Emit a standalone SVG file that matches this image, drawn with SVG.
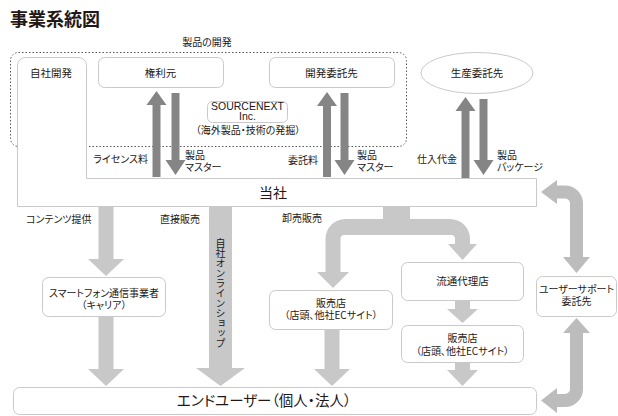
<svg xmlns="http://www.w3.org/2000/svg" width="618" height="416" viewBox="0 0 618 416">
<style>
text{font-family:"Noto Sans CJK JP","Noto Sans",sans-serif;fill:#231815;font-feature-settings:"palt";}
.t{font-size:10px;}
.b{font-size:10.5px;}
.m{text-anchor:middle;}
.e{text-anchor:end;}
.box{fill:#fff;stroke:#c9c9c9;stroke-width:1;}
.dk{fill:#858585;}
.lt{fill:#c8c8c8;}
.sd{fill:#bcbcbc;}
.lat{font-family:"Liberation Sans",Arial,sans-serif;font-size:10.5px;}
</style>
<rect width="618" height="416" fill="#fff"/>
<text x="10" y="26" style="font-size:18px;font-weight:700">事業系統図</text>
<text class="t m" x="207" y="46">製品の開発</text>
<rect x="10.5" y="52.5" width="396" height="94" rx="8" fill="none" stroke="#555" stroke-width="1" stroke-dasharray="1.5 2"/>

<g id="tousha">
<path class="box" d="M17.5,65 A8,8 0 0 1 25.5,57.5 H78 A8,8 0 0 1 86.5,65.5 V178.5 H536.5 V206.5 H17.5 Z"/>
<text class="b m" x="51" y="77">自社開発</text>
<text class="m" x="273" y="198" style="font-size:14px">当社</text>
</g>
<g id="kenrimoto">
<rect class="box" x="98.5" y="57.5" width="125" height="30" rx="6"/>
<text class="b m" x="160.5" y="76.5">権利元</text>
</g>
<g id="kaihatsu">
<rect class="box" x="269.5" y="57.5" width="125" height="30" rx="6"/>
<text class="b m" x="331.5" y="76.5">開発委託先</text>
</g>
<g id="seisan">
<ellipse class="box" cx="477" cy="73" rx="56" ry="20.5"/>
<text class="b m" x="477" y="77">生産委託先</text>
</g>
<g id="sourcenext">
<rect class="box" x="207.5" y="101.5" width="80" height="21" rx="5"/>
<text class="lat m" x="247.5" y="110">SOURCENEXT<tspan x="247.5" dy="10">Inc.</tspan></text>
<text class="t m" x="248" y="134">（海外製品・技術の発掘）</text>
</g>
<g id="carrier">
<rect class="box" x="42.5" y="277.5" width="123" height="39" rx="6"/>
<text class="t m" x="104" y="297">スマートフォン通信事業者<tspan x="104" dy="12">（キャリア）</tspan></text>
</g>
<g id="hanbaiten1">
<rect class="box" x="269.5" y="290.5" width="123" height="39" rx="6"/>
<text class="t m" x="331" y="307">販売店<tspan x="331" dy="12">（店頭、他社ECサイト）</tspan></text>
</g>
<g id="ryutsu">
<rect class="box" x="401.5" y="262.5" width="122" height="38" rx="6"/>
<text class="b m" x="462.5" y="285">流通代理店</text>
</g>
<g id="hanbaiten2">
<rect class="box" x="401.5" y="325.5" width="122" height="37" rx="6"/>
<text class="t m" x="462.5" y="342">販売店<tspan x="462.5" dy="13">（店頭、他社ECサイト）</tspan></text>
</g>
<g id="support">
<rect class="box" x="536.5" y="276.5" width="80" height="40" rx="6"/>
<text class="t m" x="576.5" y="293">ユーザーサポート<tspan x="576.5" dy="12">委託先</tspan></text>
</g>
<g id="enduser">
<rect class="box" x="13.5" y="387.5" width="523" height="27" rx="6"/>
<text class="m" x="264" y="406" style="font-size:14.5px">エンドユーザー（個人・法人）</text>
</g>

<g id="connectors">
<polygon class="dk" points="152.5,177 152.5,105 146.5,105 156.5,91 166.5,105 160.5,105 160.5,177"/>
<polygon class="dk" points="171.5,93 179.5,93 179.5,160 185.5,160 175.5,175 165.5,160 171.5,160"/>
<polygon class="dk" points="323,177 323,106 317,106 327,92 337,106 331,106 331,177"/>
<polygon class="dk" points="340.5,93 348.5,93 348.5,160 354.5,160 344.5,175 334.5,160 340.5,160"/>
<polygon class="dk" points="461.5,178 461.5,111 455.5,111 465.5,97 475.5,111 469.5,111 469.5,178"/>
<polygon class="dk" points="479.5,99 487.5,99 487.5,160 493.5,160 483.5,175 473.5,160 479.5,160"/>
<text class="t e" x="148" y="163">ライセンス料</text>
<text class="t" x="185" y="159">製品<tspan x="185" dy="12">マスター</tspan></text>
<text class="t e" x="318" y="164">委託料</text>
<text class="t" x="357" y="159">製品<tspan x="357" dy="12">マスター</tspan></text>
<text class="t e" x="457" y="163">仕入代金</text>
<text class="t" x="497" y="159">製品<tspan x="497" dy="12">パッケージ</tspan></text>

<polygon class="lt" points="98.5,207 113.5,207 113.5,259 124,259 106,276 88,259 98.5,259"/>
<polygon class="lt" points="98.5,317 113.5,317 113.5,369 124,369 106,386 88,369 98.5,369"/>
<polygon class="lt" points="209,207 232,207 232,368 245,368 220.5,386 196,368 209,368"/>
<text class="t" x="220.5" y="238" style="writing-mode:vertical-rl">自社オンラインショップ</text>
<path class="lt" d="M383,207 H410 V219 H450 A20,20 0 0 1 470,239 V244 H477 L462.5,260 L448,244 H455 V239 A4,4 0 0 0 451,235 H344.5 A4,4 0 0 0 340.5,239 V272 H349 L333,288 L317,272 H325.5 V239 A20,20 0 0 1 345.5,219 H383 Z"/>
<polygon class="lt" points="324.5,330 339.5,330 339.5,369 350,369 332,386 314,369 324.5,369"/>
<polygon class="lt" points="455,301 470,301 470,309 478,309 462.5,323 447,309 455,309"/>
<polygon class="lt" points="455,363 470,363 470,370 478,370 462.5,386 447,370 455,370"/>
<text class="t" x="26" y="223">コンテンツ提供</text>
<text class="t" x="160" y="223">直接販売</text>
<text class="t" x="282" y="222">卸売販売</text>

<path class="sd" d="M541,192 L557,180 V185.5 H565 A18,18 0 0 1 583,203.5 V257 H590 L576.5,273 L563,257 H570 V203.5 A5,5 0 0 0 565,198.5 H557 V204 Z"/>
<path class="sd" d="M576.5,318 L590,333 H583 V389 A18,18 0 0 1 565,407 H557 V413 L541,400.5 L557,388 V394 H565 A5,5 0 0 0 570,389 V333 H563 Z"/>
</g>
</svg>
